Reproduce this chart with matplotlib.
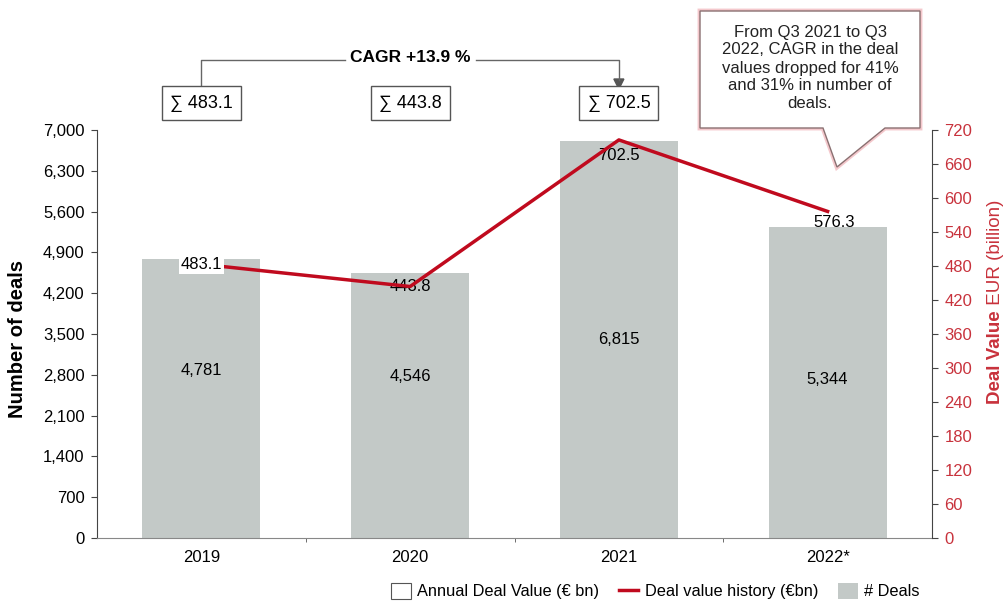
import matplotlib.pyplot as plt
from matplotlib.patches import Patch
from matplotlib.lines import Line2D

plt.rcParams['font.family'] = ['Liberation Sans', 'DejaVu Sans']

years = ['2019', '2020', '2021', '2022*']
deals = [4781, 4546, 6815, 5344]
deal_value = [483.1, 443.8, 702.5, 576.3]
sum_labels = ['∑ 483.1', '∑ 443.8', '∑ 702.5']

bar_col = '#c3c9c7'
red = '#c00a1e'
red_txt = '#c8323c'


def fx(px):
    return px / 1008


def fy(py):
    return 1 - py / 602


fig = plt.figure(figsize=(10.08, 6.02), dpi=100)
ax = fig.add_axes([fx(97), fy(538), 835/1008, 408/602])
ax2 = ax.twinx()

x = list(range(len(years)))
ax.bar(x, deals, width=0.565, color=bar_col, zorder=1)
ax.set_xlim(-0.5, 3.5)
ax.set_ylim(0, 7000)
ax.set_yticks(range(0, 7001, 700))
ax.set_yticklabels([f'{v:,}' for v in range(0, 7001, 700)], fontsize=12)
ax.set_xticks(x)
ax.set_xticklabels(years, fontsize=12)
ax.set_xticks([0.5, 1.5, 2.5], minor=True)
ax.tick_params(axis='x', which='major', length=0, pad=9)
ax.tick_params(axis='x', which='minor', length=3, color='#555555')
ax.tick_params(axis='y', direction='out', length=4, color='#444444', pad=5)
ax.spines['top'].set_visible(False)
ax.spines['right'].set_visible(False)
ax.spines['bottom'].set_color('#888888')
ax.spines['left'].set_color('#444444')
fig.text(fx(18), fy(339), 'Number of deals', rotation=90, fontsize=14.5,
         fontweight='bold', ha='center', va='center')

# bar labels, placed a bit above mid height
lab_frac = [0.60, 0.61, 0.50, 0.51]
for i, v in enumerate(deals):
    ax.text(i, v * lab_frac[i], f'{v:,}', ha='center', va='center', fontsize=12)

ax2.plot(x, deal_value, color=red, lw=2.5, zorder=3)
ax2.set_ylim(0, 720)
ax2.set_yticks(range(0, 721, 60))
ax2.tick_params(axis='y', colors='#444444', labelcolor=red_txt, labelsize=12, length=4, pad=5)
for s in ['top', 'left', 'bottom']:
    ax2.spines[s].set_visible(False)
ax2.spines['right'].set_color('#444444')

# line value labels
ax2.text(0, deal_value[0], '483.1', ha='center', va='center', fontsize=12,
         bbox=dict(fc='white', ec='none', pad=1.5), zorder=4)
ax2.text(1, deal_value[1], '443.8', ha='center', va='center', fontsize=12, zorder=2)
ax2.text(2, deal_value[2] - 27, '702.5', ha='center', va='center', fontsize=12, zorder=2)
ax2.text(3.03, deal_value[3] - 20, '576.3', ha='center', va='center', fontsize=12, zorder=4)

# right axis label, two styles
fig.text(fx(996), fy(310), ' EUR (billion)', rotation=90, color=red_txt,
         fontsize=13.5, ha='center', va='bottom')
fig.text(fx(996), fy(310), 'Deal Value', rotation=90, color=red_txt,
         fontsize=13.5, fontweight='bold', ha='center', va='top')

# sum boxes above bars
for i, s in enumerate(sum_labels):
    xf = fx(97 + (i + 0.5) * 835 / 4)
    fig.text(xf, fy(103), s, ha='center', va='center', fontsize=13,
             bbox=dict(fc='white', ec='#555555', lw=1, boxstyle='square,pad=0.45'))

# CAGR bracket
x1 = 97 + 0.5 * 835 / 4
x3 = 97 + 2.5 * 835 / 4
fig.add_artist(Line2D([fx(x1), fx(x1), fx(345)], [fy(89), fy(60), fy(60)], color='#666666', lw=1))
fig.add_artist(Line2D([fx(476), fx(x3), fx(x3)], [fy(60), fy(60), fy(80)], color='#666666', lw=1))
fig.patches.append(plt.Polygon([[fx(x3 - 5), fy(79)], [fx(x3 + 5), fy(79)], [fx(x3), fy(89)]],
                               closed=True, color='#555555', transform=fig.transFigure))
fig.text(fx(410), fy(57), 'CAGR +13.9 %', ha='center', va='center', fontsize=12.5, fontweight='bold')

# callout box
call = [(700, 11), (920, 11), (920, 128), (885, 128), (837, 167), (823, 128), (700, 128)]
fig.patches.append(plt.Polygon([[fx(a), fy(b)] for a, b in call], closed=True,
                               fc='none', ec='#f4c8cc', lw=3.5, transform=fig.transFigure))
fig.patches.append(plt.Polygon([[fx(a), fy(b)] for a, b in call], closed=True,
                               fc='white', ec='#8a7071', lw=1, transform=fig.transFigure))
fig.text(fx(810), fy(68), 'From Q3 2021 to Q3\n2022, CAGR in the deal\nvalues dropped for 41%\nand 31% in number of\ndeals.',
         ha='center', va='center', fontsize=12, linespacing=1.25, color='#222222')

# legend
handles = [Patch(fc='white', ec='#555555', lw=0.8, label='Annual Deal Value (€ bn)'),
           Line2D([], [], color=red, lw=2.5, label='Deal value history (€bn)'),
           Patch(fc=bar_col, ec='none', label='# Deals')]
fig.legend(handles=handles, loc='center right', bbox_to_anchor=(fx(928), fy(591)),
           ncol=3, frameon=False, fontsize=11.8, handlelength=1.2, handleheight=1.2,
           handletextpad=0.4, columnspacing=1.2, borderpad=0)

fig.savefig('out.png', dpi=100)
